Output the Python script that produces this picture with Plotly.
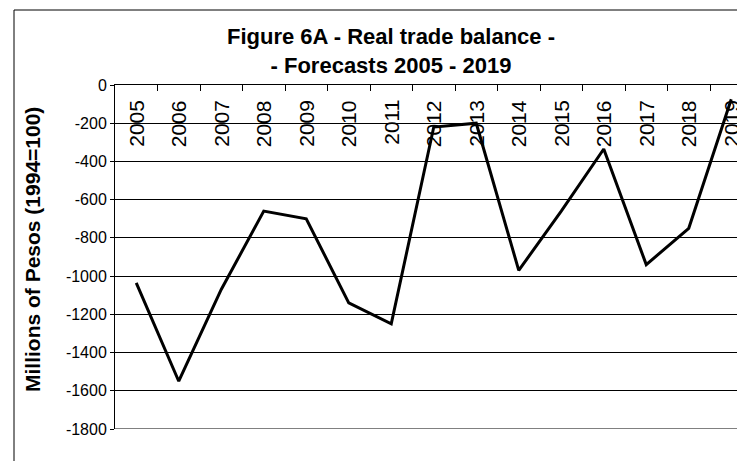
import plotly.graph_objects as go

years = ["2005", "2006", "2007", "2008", "2009", "2010", "2011", "2012",
         "2013", "2014", "2015", "2016", "2017", "2018", "2019"]
balance = [-1035, -1550, -1070, -660, -700, -1140, -1250, -220,
           -200, -970, -660, -335, -940, -750, -75]
y_ticks = [0, -200, -400, -600, -800, -1000, -1200, -1400, -1600, -1800]
y_title = "Millions of Pesos (1994=100)"
title_lines = ["Figure 6A - Real trade balance -", "- Forecasts 2005 - 2019"]

W, H = 745, 461
L, T, B, R = 107, 77, 40, 0
PW, PH = W - L - R, H - T - B
n = len(years)
xs = list(range(n))
cat_px = 42.5
xr = [-0.5, -0.5 + PW / cat_px]

fig = go.Figure()
fig.add_trace(go.Scatter(x=xs, y=balance, mode="lines",
                         line=dict(color="black", width=3), showlegend=False))

font = "Liberation Sans, Arial, sans-serif"

# category labels, rotated, hanging just below the x axis line at the top
annotations = [
    dict(x=xs[i], y=1, xref="x", yref="paper", text=years[i], showarrow=False,
         textangle=-90, xanchor="center", yanchor="top", yshift=-13,
         font=dict(size=21, family=font, color="black"))
    for i in range(n)
]
# y axis title
annotations.append(
    dict(x=(24 - L) / PW, y=(H - B - 241) / PH, xref="paper", yref="paper",
         text="<b>" + y_title + "</b>", showarrow=False, textangle=-90,
         xanchor="center", yanchor="middle",
         font=dict(size=21, family=font, color="black"))
)

fig.update_layout(
    width=W, height=H,
    margin=dict(l=L, r=R, t=T, b=B, pad=0),
    paper_bgcolor="white", plot_bgcolor="white",
    font=dict(family=font, color="black"),
    title=dict(text="<b>" + "<br>".join(title_lines) + "</b>",
               x=383 / W, xref="container", xanchor="center",
               y=1 - 36 / H, yref="container", yanchor="middle",
               font=dict(size=22, family=font, color="black")),
    xaxis=dict(range=xr, side="top", showline=True, linecolor="black", linewidth=1,
               tickvals=[i - 0.5 for i in range(n + 1)], ticktext=[""] * (n + 1),
               ticks="inside", ticklen=6, tickcolor="black", showticklabels=False,
               showgrid=False, zeroline=False, fixedrange=True),
    yaxis=dict(range=[-1800, 0], tickvals=y_ticks, ticktext=[str(v) for v in y_ticks],
               showline=True, linecolor="black", linewidth=1,
               ticks="outside", ticklen=4, tickcolor="black",
               showgrid=True, gridcolor="black", gridwidth=1, zeroline=False,
               tickfont=dict(size=16, family=font, color="black")),
    annotations=annotations,
    shapes=[
        dict(type="line", xref="paper", yref="y", x0=0, x1=1.05, y0=-1800, y1=-1800,
             line=dict(color="#808080", width=2), layer="above"),
        dict(type="rect", xref="paper", yref="paper",
             x0=(6 - L) / PW, x1=1.5,
             y0=-0.5, y1=1 + (T - 2) / PH,
             line=dict(color="black", width=1), fillcolor="rgba(0,0,0,0)", layer="below"),
    ],
)

fig.write_html("out.html")
